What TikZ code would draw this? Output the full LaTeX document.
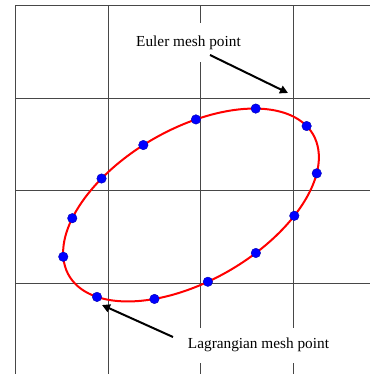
\documentclass[tikz,border=0pt]{standalone}
\usepackage{fontspec}
\setmainfont{Liberation Serif}
\usetikzlibrary{arrows.meta}
\begin{document}
\begin{tikzpicture}[x=1pt,y=-1pt,
  gridline/.style={draw=black!72,line width=0.9pt},
  curve/.style={draw=red,line width=2pt},
  dot/.style={circle,fill=blue,draw=blue!70!black,line width=0.4pt,inner sep=0pt,minimum width=9.5pt,minimum height=9.5pt},
  label/.style={fill=white,font=\fontsize{15.3}{17}\selectfont,inner xsep=3pt},
  pointer/.style={draw=black,line width=2pt,-{Triangle[length=8pt,width=8pt]}}]
\useasboundingbox (0,0) rectangle (370,374);
\fill[white] (0,0) rectangle (370,374);
% grid
\foreach \y in {5.5,98,190.5,283} \draw[gridline] (15.5,\y) -- (370,\y);
\foreach \x in {15.5,108,200.5,293} \draw[gridline] (\x,5.5) -- (\x,374);
% ellipse
\draw[curve] plot[domain=0:360,samples=120,smooth,variable=\t]
  ({191+141*cos(\t)*0.866+76*sin(\t)*0.5},{205-141*cos(\t)*0.5+76*sin(\t)*0.866}) -- cycle;
% mesh points
\foreach \t [count=\i] in {154.6,123.9,99.7,76.8,53.4,27.8,-8.0,-42.3,-70.5,-94.6,-117.1,-140.9,-165.5}
  \node[dot] (d\i) at ({191+141*cos(\t)*0.866+76*sin(\t)*0.5},{205-141*cos(\t)*0.5+76*sin(\t)*0.866}) {};
% labels
\node[label,minimum height=39pt] (euler) at (188.5,43) {Euler mesh point};
\node[label,minimum height=35pt] (lagr) at (258.5,345) {Lagrangian mesh point};
\coordinate (eulerTail) at (210,55);
\coordinate (eulerTip) at (288,93);
\coordinate (lagrTail) at (173,337);
\coordinate (lagrTip) at (102,305);
\draw[pointer] (eulerTail) -- (eulerTip);
\draw[pointer] (lagrTail) -- (lagrTip);
\end{tikzpicture}
\end{document}
